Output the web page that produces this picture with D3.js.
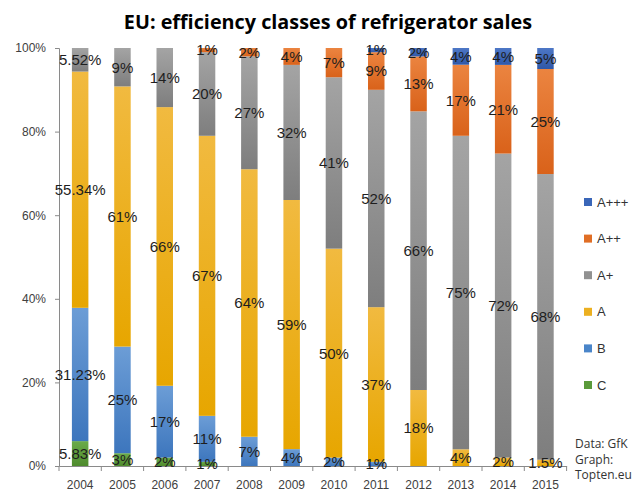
<!DOCTYPE html>
<html><head><meta charset="utf-8">
<script src="https://cdn.jsdelivr.net/npm/d3@7"></script>
<style>body{margin:0;background:#fff}svg{display:block}</style>
</head><body>
<script>
const years = ["2004","2005","2006","2007","2008","2009","2010","2011","2012","2013","2014","2015"];
const seriesNames = ["C","B","A","A+","A++","A+++"];
const valC    = [5.83,3,2,1,0,0,0,0,0,0,0,0];
const valB    = [31.23,25,17,11,7,4,2,1,0,0,0,0];
const valA    = [55.34,61,66,67,64,59,50,37,18,4,2,1.5];
const valAp   = [5.52,9,14,20,27,32,41,52,66,75,72,68];
const valApp  = [0,0,0,1,2,4,7,9,13,17,21,25];
const valAppp = [0,0,0,0,0,0,0,1,2,4,4,5];
const yTicks = [0,0.2,0.4,0.6,0.8,1];
const title = "EU: efficiency classes of refrigerator sales";
const sourceLines = ["Data: GfK","Graph:","Topten.eu"];

const colors = {"C":["#6bab4a","#4e8b2d"],"B":["#6c9dd6","#3d76bd"],"A":["#f1ba40","#e7a600"],
  "A+":["#a4a4a4","#7e7e7e"],"A++":["#eb8440","#d9621a"],"A+++":["#4d77c6","#2f58a8"]};
const solid = {"C":"#5a9a3a","B":"#4a85c9","A":"#ecb020","A+":"#919191","A++":"#e06e25","A+++":"#3a66b8"};

const valuesBySeries = {"C":valC,"B":valB,"A":valA,"A+":valAp,"A++":valApp,"A+++":valAppp};
const rows = years.map((y,i)=>{const r={year:y};seriesNames.forEach(s=>r[s]=valuesBySeries[s][i]);return r;});

const W=643,H=492;
const svg=d3.select("body").append("svg").attr("width",W).attr("height",H);
const defs=svg.append("defs");
seriesNames.forEach((s,i)=>{
  const g=defs.append("linearGradient").attr("id","g"+i).attr("x1",0).attr("y1",0).attr("x2",0).attr("y2",1);
  g.append("stop").attr("offset","0%").attr("stop-color",colors[s][0]);
  g.append("stop").attr("offset","100%").attr("stop-color",colors[s][1]);
});

const x=d3.scaleBand().domain(years).range([59,566.6]).paddingInner(0.61).paddingOuter(0.305);
const y=d3.scaleLinear().domain([0,1]).range([466,48]);

const stack=d3.stack().keys(seriesNames).offset(d3.stackOffsetExpand);
const stacked=stack(rows);

const layers=svg.append("g").selectAll("g").data(stacked).join("g")
  .attr("fill",(d,i)=>`url(#g${i})`);
layers.selectAll("rect").data(d=>d.filter(p=>p.data[d.key]>0)).join("rect")
  .attr("x",d=>x(d.data.year)).attr("width",x.bandwidth())
  .attr("y",d=>y(d[1])).attr("height",d=>y(d[0])-y(d[1]));

// axes
const yAxis=svg.append("g").attr("transform","translate(59,0)")
  .call(d3.axisLeft(y).tickValues(yTicks).tickFormat(d3.format(".0%")).tickSize(4).tickPadding(9));
const xAxis=svg.append("g").attr("transform","translate(0,466)")
  .call(d3.axisBottom(x).tickSize(0).tickPadding(14));
[yAxis,xAxis].forEach(a=>{
  a.select(".domain").attr("stroke","#8a8a8a");
  a.selectAll(".tick line").attr("stroke","#8a8a8a");
  a.selectAll("text").attr("font-family","Liberation Sans, Arial, sans-serif").attr("font-size",12).attr("fill","#404040");
});
// category boundary ticks on x axis
const bounds=years.map(yr=>x(yr)-x.step()*x.paddingInner()/2).concat([x(years[years.length-1])+x.bandwidth()+x.step()*x.paddingInner()/2]);
svg.append("g").selectAll("line").data(bounds).join("line")
  .attr("x1",d=>d).attr("x2",d=>d).attr("y1",466).attr("y2",471).attr("stroke","#8a8a8a");

// labels
const labels=svg.append("g").attr("font-family","Liberation Sans, Arial, sans-serif").attr("font-size",15).attr("fill","#1e1e1e").attr("text-anchor","middle");
stacked.forEach(layer=>{
  layer.forEach(p=>{
    const v=p.data[layer.key];
    if(v>0){
      labels.append("text").attr("x",x(p.data.year)+x.bandwidth()/2)
        .attr("y",(y(p[0])+y(p[1]))/2).attr("dy","0.36em").text(v+"%");
    }
  });
});

// title
svg.append("text").attr("x",328).attr("y",29).attr("text-anchor","middle")
  .attr("font-family","Open Sans, Liberation Sans, sans-serif").attr("font-weight","bold").attr("font-size",19.8)
  .attr("fill","#000").text(title);

// legend
const legendOrder=seriesNames.slice().reverse();
const leg=svg.append("g");
legendOrder.forEach((s,i)=>{
  const cy=202+i*36.6;
  leg.append("rect").attr("x",584).attr("y",cy-4).attr("width",8).attr("height",8).attr("fill",solid[s]);
  leg.append("text").attr("x",597).attr("y",cy).attr("dy","0.36em")
    .attr("font-family","Liberation Sans, Arial, sans-serif").attr("font-size",13).attr("fill","#333").text(s);
});
// source
sourceLines.forEach((t,i)=>{
  svg.append("text").attr("x",575).attr("y",448+i*15.5)
    .attr("font-family","Open Sans, Liberation Sans, sans-serif").attr("font-size",12).attr("fill","#333").text(t);
});
</script>
</body></html>
